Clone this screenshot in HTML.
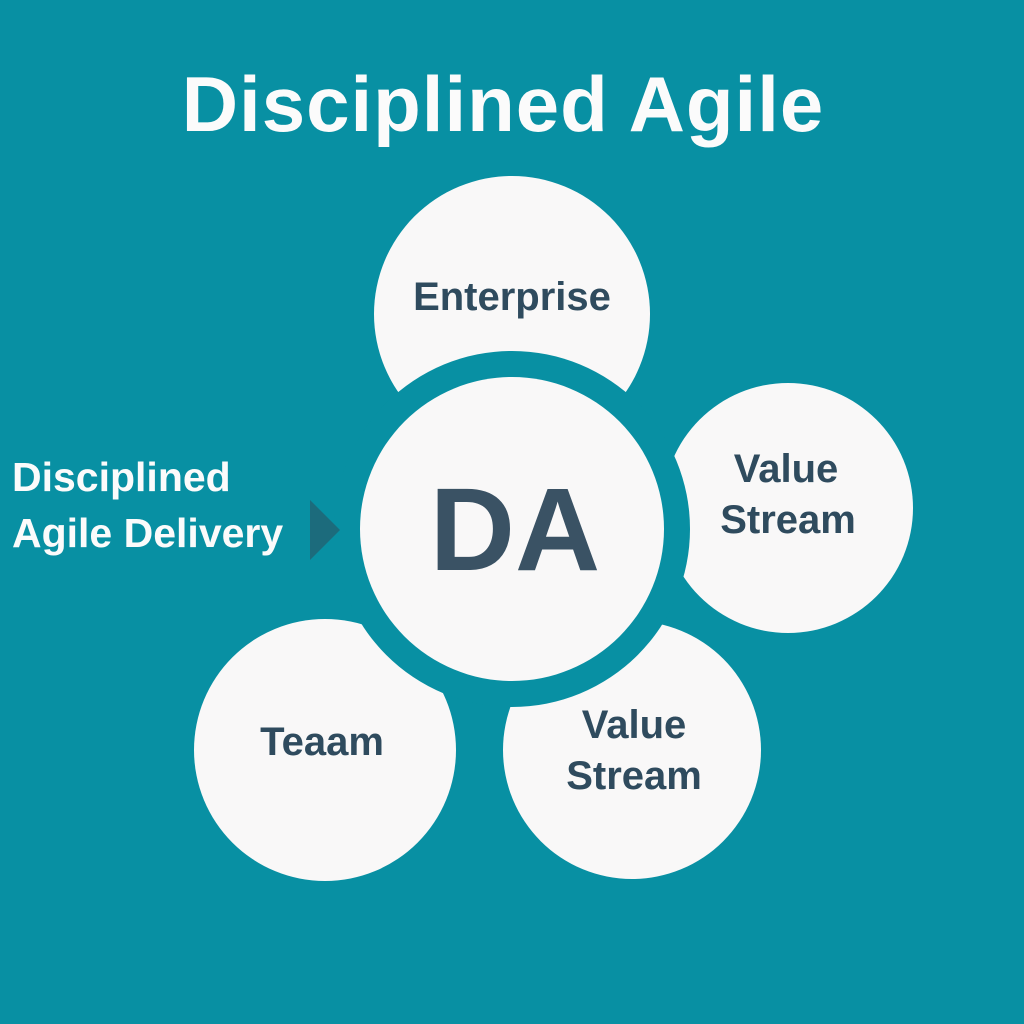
<!DOCTYPE html>
<html><head><style>
body{margin:0;width:1024px;height:1024px;background:#0890a3;overflow:hidden}
svg{display:block}
text{font-family:"Liberation Sans",sans-serif;font-weight:bold}
</style></head><body>
<svg width="1024" height="1024" viewBox="0 0 1024 1024">
<rect width="1024" height="1024" fill="#0890a3"/>
<text x="503" y="131" font-size="78" letter-spacing="1" fill="#fbfbfb" text-anchor="middle">Disciplined Agile</text>
<g fill="#f9f8f8">
<circle cx="512" cy="314" r="138"/>
<circle cx="788" cy="508" r="125"/>
<circle cx="632" cy="750" r="129"/>
<circle cx="325" cy="750" r="131"/>
</g>
<circle cx="512" cy="529" r="178" fill="#0890a3"/>
<circle cx="512" cy="529" r="152" fill="#f9f8f8"/>
<g fill="#2f4b5e" text-anchor="middle">
<text x="512" y="310" font-size="40">Enterprise</text>
<text x="786" y="482" font-size="40">Value</text>
<text x="788" y="533" font-size="40">Stream</text>
<text x="634" y="738" font-size="40">Value</text>
<text x="634" y="789" font-size="40">Stream</text>
<text x="322" y="755" font-size="40">Teaam</text>
<text x="515" y="570" font-size="118" fill="#3a5264">DA</text>
</g>
<text x="12" y="491" font-size="41" fill="#fbfbfb">Disciplined</text>
<text x="12" y="547" font-size="41" fill="#fbfbfb">Agile Delivery</text>
<polygon points="310,500 340,530 310,560" fill="#1c6b7c"/>
</svg>
</body></html>
